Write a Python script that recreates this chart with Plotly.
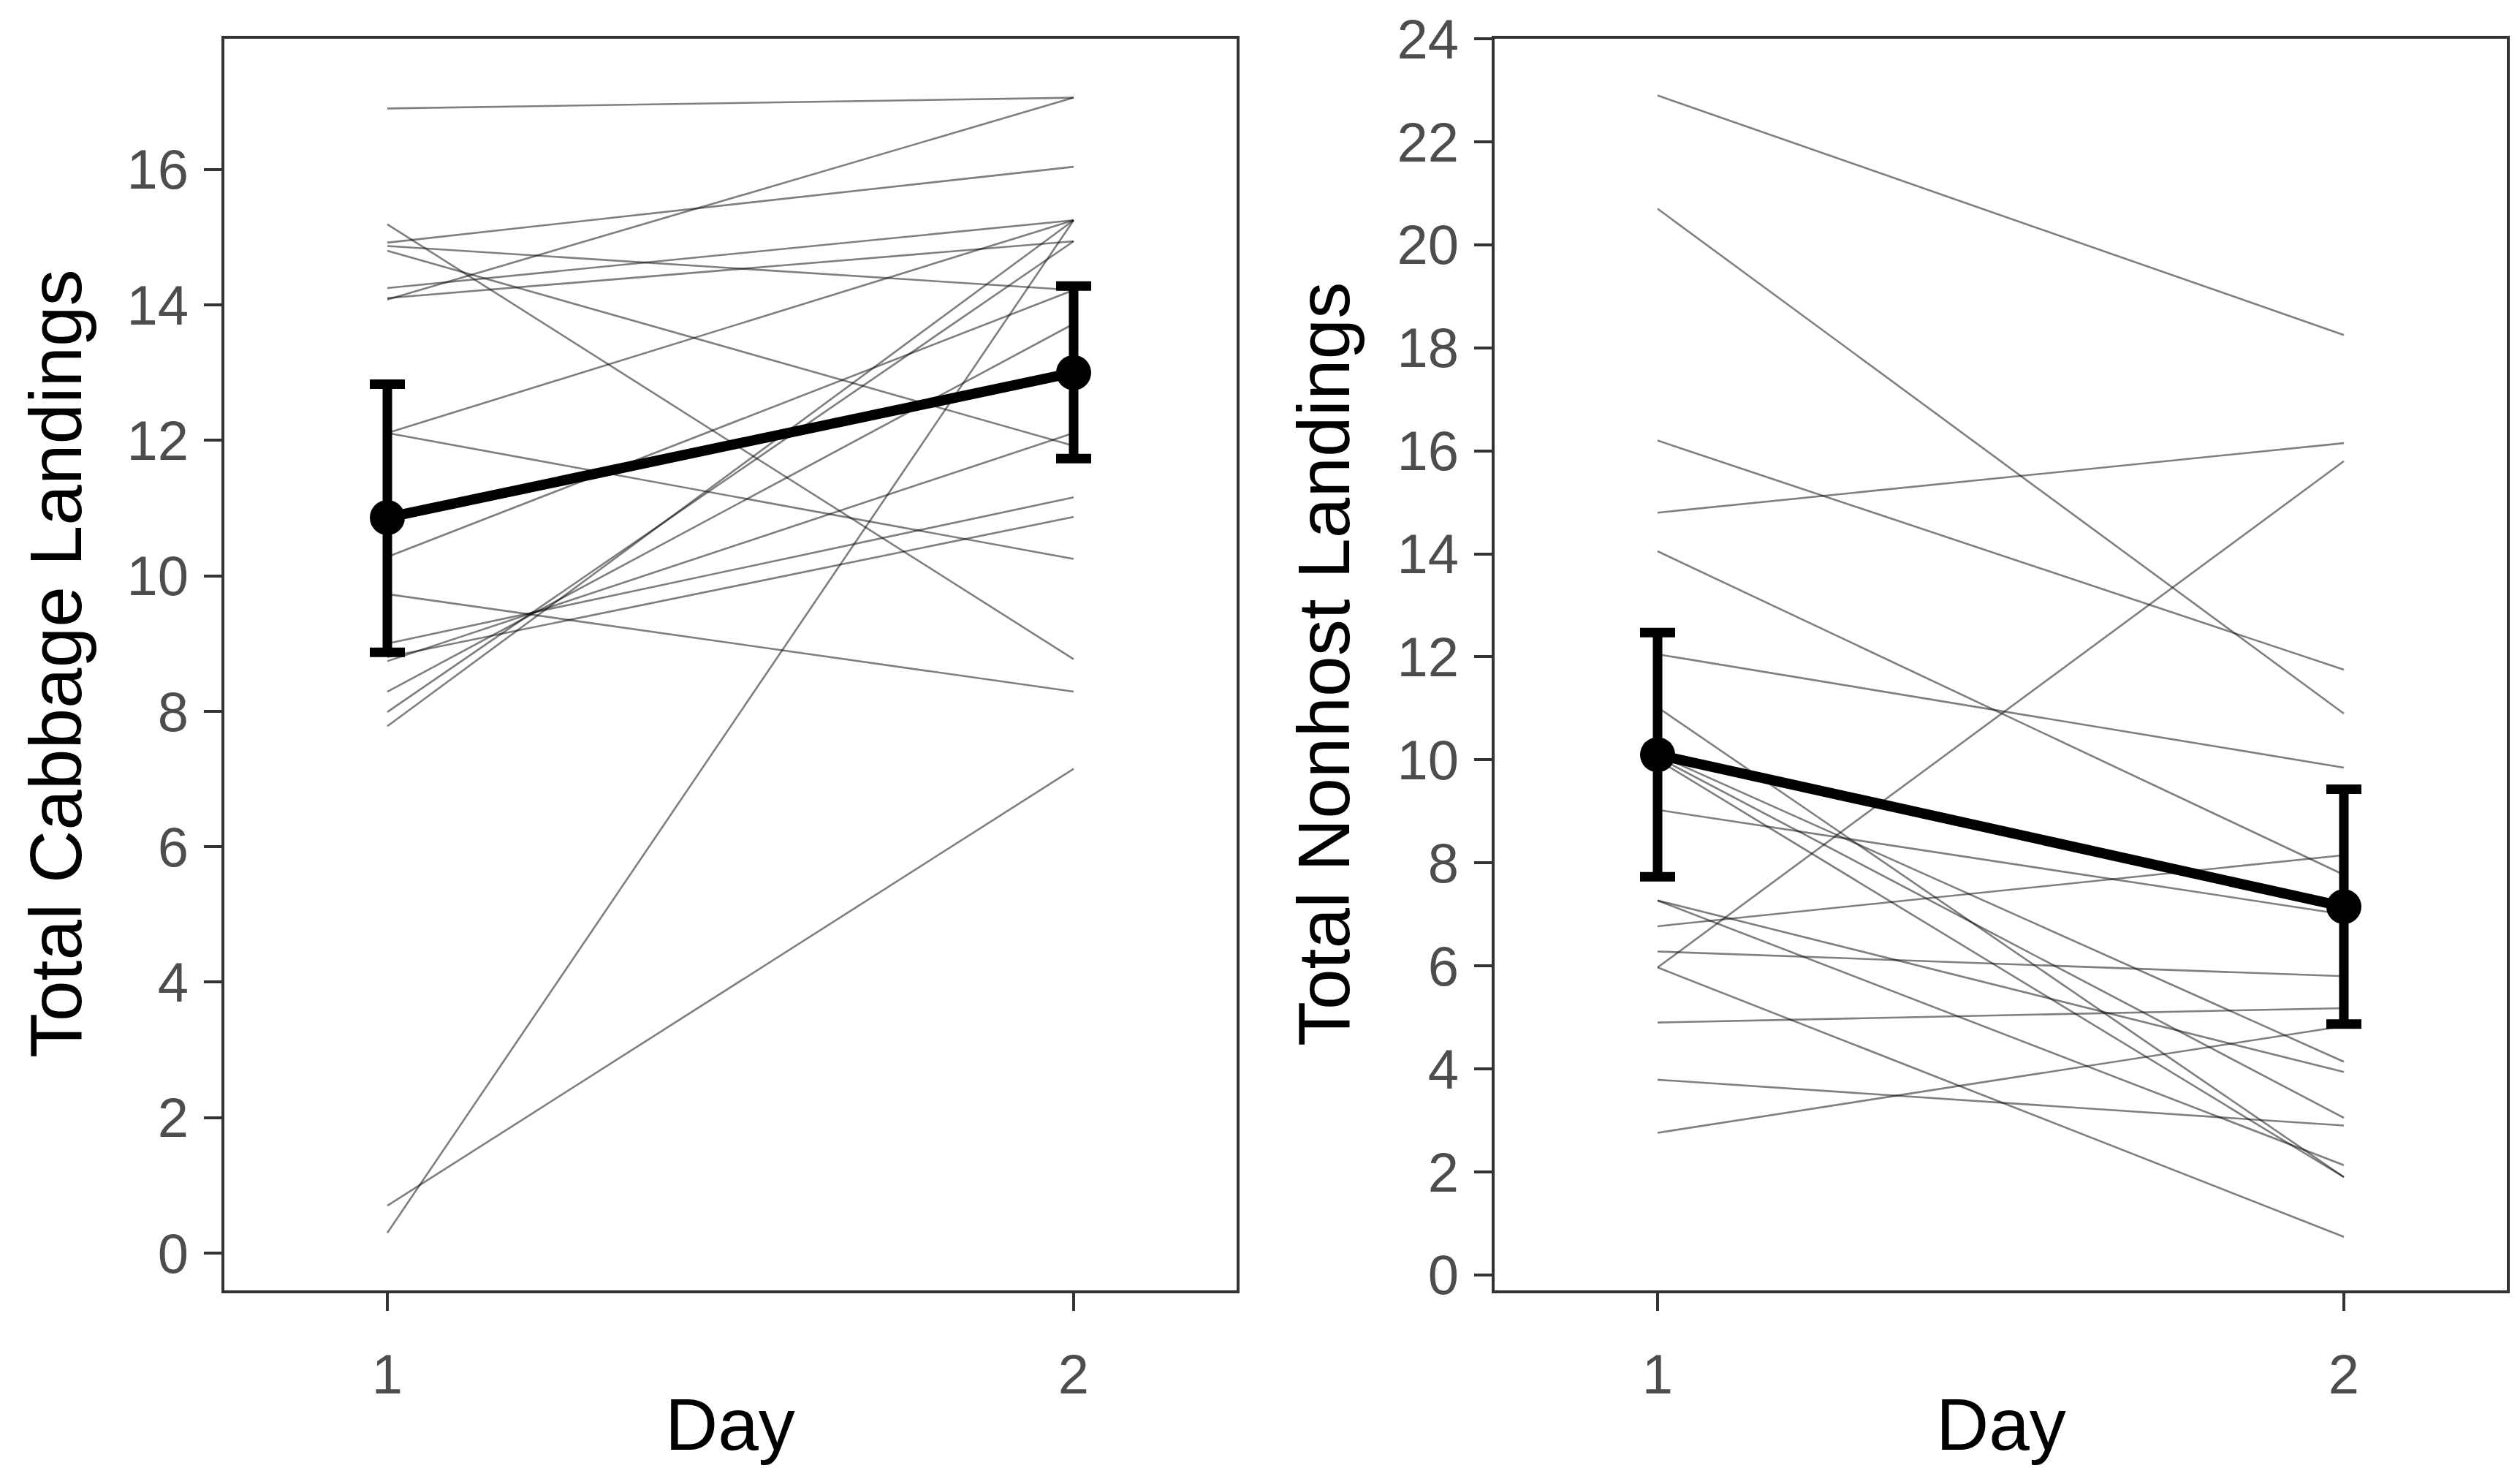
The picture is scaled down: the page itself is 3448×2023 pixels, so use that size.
import plotly.graph_objects as go

# day 1 / day 2 values per subject
days = [1, 2]
cab_day1 = [16.9, 15.19, 14.92, 14.87, 14.8, 14.25, 14.08, 14.1, 12.11, 12.11,
            10.28, 9.73, 9.0, 8.8, 8.74, 8.29, 7.99, 7.78, 0.7, 0.3]
cab_day2 = [17.06, 8.77, 16.04, 14.22, 11.92, 15.25, 17.06, 14.94, 15.25, 10.25,
            14.22, 8.29, 11.16, 10.87, 12.11, 13.72, 14.94, 15.25, 7.15, 15.25]
non_day1 = [22.9, 20.7, 16.2, 14.8, 14.05, 12.05, 11.02, 10.1, 10.05, 10.0,
            9.03, 7.27, 7.27, 6.77, 6.28, 5.97, 5.97, 4.9, 3.79, 2.76]
non_day2 = [18.25, 10.9, 11.75, 16.15, 7.77, 9.85, 1.9, 4.14, 3.05, 1.9,
            7.0, 3.94, 2.13, 8.15, 5.8, 15.8, 0.74, 5.18, 2.9, 4.83]

# group means with interval ends
cab_mean = [10.86, 13.0]
cab_lo = [8.87, 11.73]
cab_hi = [12.83, 14.28]
non_mean = [10.1, 7.15]
non_lo = [7.73, 4.87]
non_hi = [12.47, 9.43]

W, H = 3448, 2023
FONT = "Liberation Sans Narrow, Arial Narrow, Liberation Sans, Arial"

fig = go.Figure()


def add_panel(d1, d2, mean, lo, hi, xa, ya):
    for a, b in zip(d1, d2):
        fig.add_trace(go.Scatter(x=days, y=[a, b], mode='lines',
                                 line=dict(color='rgba(0,0,0,0.5)', width=2.6),
                                 xaxis=xa, yaxis=ya, hoverinfo='skip'))
    fig.add_trace(go.Scatter(
        x=days, y=mean, mode='lines+markers',
        line=dict(color='black', width=14),
        marker=dict(color='black', size=48),
        error_y=dict(type='data', symmetric=False,
                     array=[h - m for h, m in zip(hi, mean)],
                     arrayminus=[m - l for m, l in zip(mean, lo)],
                     color='black', thickness=13, width=24),
        xaxis=xa, yaxis=ya))


add_panel(cab_day1, cab_day2, cab_mean, cab_lo, cab_hi, 'x', 'y')
add_panel(non_day1, non_day2, non_mean, non_lo, non_hi, 'x2', 'y2')

ydom = [1 - 1757 / H, 1 - 45 / H]
axis_common = dict(showline=True, mirror=True, linecolor='#333333', linewidth=3.5,
                   showgrid=False, zeroline=False, ticks='outside', ticklen=24,
                   tickwidth=4, tickcolor='#333333', automargin=False,
                   tickfont=dict(family=FONT, size=76, color='#4D4D4D'))

fig.update_layout(
    width=W, height=H, showlegend=False,
    paper_bgcolor='white', plot_bgcolor='white',
    margin=dict(l=0, r=0, t=0, b=0),
    xaxis=dict(domain=[299 / W, 1684 / W], range=[0.7625, 2.2375],
               tickvals=days, ticktext=['1', '2'], anchor='y',
               ticklabelstandoff=22, **axis_common),
    yaxis=dict(domain=ydom, range=[-0.55, 17.93], tickvals=list(range(0, 17, 2)),
               anchor='x', ticklabelstandoff=6, **axis_common),
    xaxis2=dict(domain=[2037 / W, 3422 / W], range=[0.7625, 2.2375],
                tickvals=days, ticktext=['1', '2'], anchor='y2',
                ticklabelstandoff=22, **axis_common),
    yaxis2=dict(domain=ydom, range=[-0.3, 24.001], tickvals=list(range(0, 25, 2)),
                anchor='x2', ticklabelstandoff=6, **axis_common),
)

title_font = dict(family=FONT, size=100, color='black')
fig.add_annotation(text='Day', x=991 / W, y=1 - 1940 / H, xref='paper', yref='paper',
                   showarrow=False, font=title_font, xanchor='center', yanchor='middle')
fig.add_annotation(text='Day', x=2730 / W, y=1 - 1940 / H, xref='paper', yref='paper',
                   showarrow=False, font=title_font, xanchor='center', yanchor='middle')
fig.add_annotation(text='Total Cabbage Landings', x=68 / W, y=1 - 900 / H,
                   xref='paper', yref='paper', showarrow=False, textangle=-90,
                   font=title_font, xanchor='center', yanchor='middle')
fig.add_annotation(text='Total Nonhost Landings', x=1803 / W, y=1 - 900 / H,
                   xref='paper', yref='paper', showarrow=False, textangle=-90,
                   font=title_font, xanchor='center', yanchor='middle')

fig.write_html("out.html")
